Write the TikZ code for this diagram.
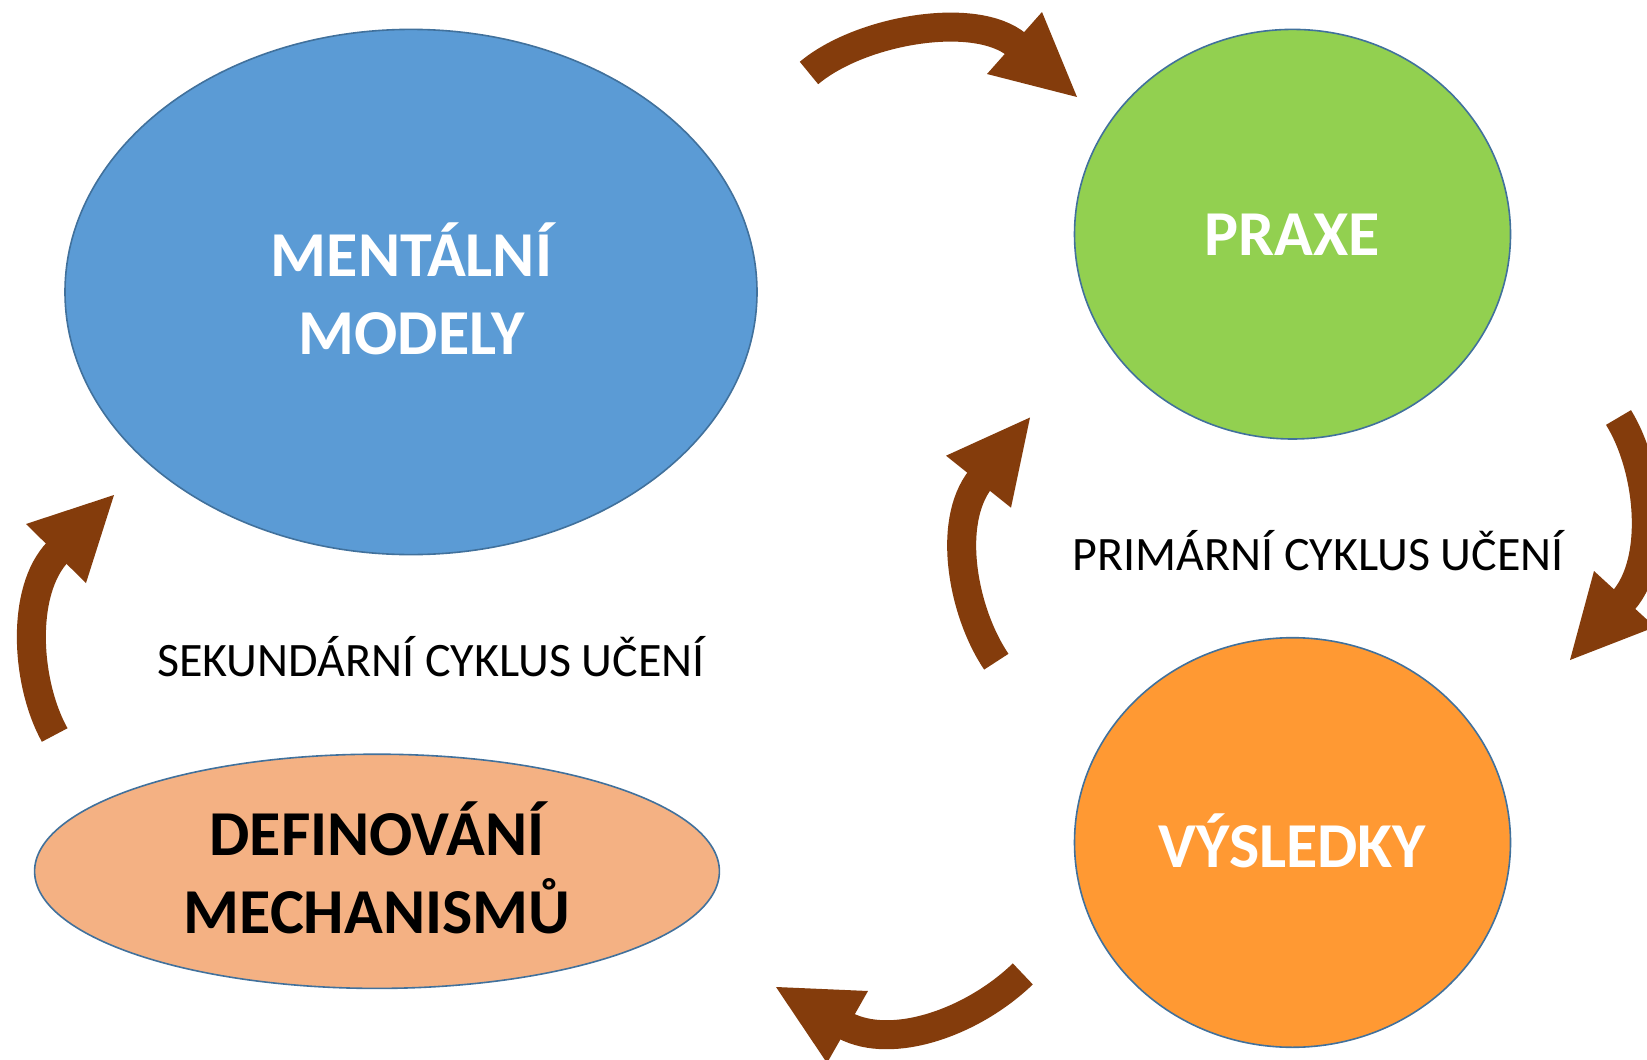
\documentclass[tikz,border=0pt]{standalone}
\usepackage{fontspec}
\setmainfont{Carlito}
\definecolor{arrowbrown}{HTML}{843C0C}
\definecolor{mmblue}{HTML}{5B9BD5}
\definecolor{praxegreen}{HTML}{92D050}
\definecolor{vysorange}{HTML}{FF9933}
\definecolor{defpeach}{HTML}{F4B183}
\definecolor{edgeblue}{HTML}{41719C}
\begin{document}
\begin{tikzpicture}[x=1pt,y=-1pt,
  blob/.style={draw=edgeblue,line width=1.6pt},
  biglabel/.style={font=\fontsize{64}{78}\selectfont\bfseries,align=center,inner sep=0pt},
  cyclabel/.style={font=\fontsize{48}{56}\selectfont,inner sep=0pt},
  band/.style={draw=arrowbrown,line width=29pt,line cap=butt},
  head/.style={fill=arrowbrown,draw=none}]
\useasboundingbox (0,0) rectangle (1647,1060);

% ellipses
\fill[white] (0,0) rectangle (1647,1060);
\draw[blob,fill=mmblue] (411,292) ellipse [x radius=346, y radius=262.6];
\draw[blob,fill=praxegreen] (1292.5,234.2) ellipse [x radius=218, y radius=204.8];
\draw[blob,fill=vysorange] (1292.5,842.5) ellipse [x radius=218, y radius=204.8];
\draw[blob,fill=defpeach] (377,871.3) ellipse [x radius=342.4, y radius=117.1];

% labels
\node[biglabel,text=white] (mm) at (411.5,289) {MENTÁLNÍ\\MODELY};
\node[biglabel,text=white] (praxe) at (1292.5,235) {PRAXE};
\node[biglabel,text=white] (vys) at (1292.5,841) {VÝSLEDKY};
\node[biglabel,text=black] (def) at (377,868) {DEFINOVÁNÍ\\MECHANISMŮ};
\node[cyclabel] (sek) at (431,657) {SEKUNDÁRNÍ CYKLUS UČENÍ};
\node[cyclabel] (pri) at (1318,551) {PRIMÁRNÍ CYKLUS UČENÍ};

% top arrow
\coordinate (ta0) at (809,73);
\coordinate (ta1) at (1017,45);
\draw[band] (ta0) .. controls (860,30) and (975,10) .. (ta1);
\fill[head] (1042,12) -- (1077,97) -- (987,74) -- cycle;

% right arrow
\coordinate (ra0) at (1618.5,417.5);
\coordinate (ra1) at (1623,601);
\draw[band] (ra0) .. controls (1650,468.5) and (1659,560.5) .. (ra1);
\fill[head] (1594,571) -- (1570,660) -- (1655,627) -- cycle;

% bottom arrow
\coordinate (ba0) at (1022.8,973.9);
\coordinate (ba1) at (845,1025.5);
\draw[band] (ba0) .. controls (972.4,1022.5) and (892.2,1050.3) .. (ba1);
\fill[head] (868,991) -- (776,987) -- (827,1063) -- cycle;

% left arrow
\coordinate (la0) at (54.7,735);
\coordinate (la1) at (58,551.7);
\draw[band] (la0) .. controls (25.6,682.6) and (20.5,590.5) .. (la1);
\fill[head] (26,524) -- (114,495) -- (86,583) -- cycle;

% middle arrow
\coordinate (ma0) at (996.3,661.7);
\coordinate (ma1) at (980.4,479.4);
\draw[band] (ma0) .. controls (962.7,611.9) and (946.5,522.7) .. (ma1);
\fill[head] (946,455.7) -- (1030,417.5) -- (1011,507.7) -- cycle;
\end{tikzpicture}
\end{document}
